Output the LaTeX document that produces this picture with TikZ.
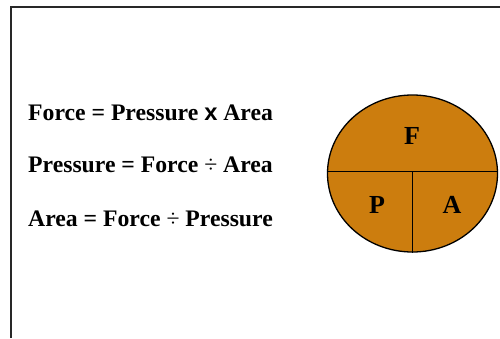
\documentclass[tikz,border=0pt]{standalone}
\usepackage{fontspec}
\setmainfont{Liberation Serif}
\newfontfamily\sansx{Liberation Sans}
\usetikzlibrary{shapes.geometric}
\definecolor{pieorange}{RGB}{204,125,14}
\definecolor{framegray}{RGB}{40,40,40}
\tikzset{
  eqtext/.style={anchor=base west, inner sep=0pt, font=\fontsize{23.7}{24}\selectfont\bfseries},
  pielabel/.style={inner sep=0pt, font=\fontsize{26}{26}\selectfont\bfseries},
}
\begin{document}
\begin{tikzpicture}[x=1pt, y=-1pt]
\useasboundingbox (0,0) rectangle (500,338);
\fill[white] (0,0) rectangle (500,338);
% frame
\draw[framegray, line width=2pt] (11,338) -- (11,7) -- (500,7);
% equations
\node[eqtext] (eqforce) at (28,120) {Force = Pressure {\sansx x} Area};
\node[eqtext] (eqpress) at (28,172) {Pressure = Force {\mdseries ÷} Area};
\node[eqtext] (eqarea) at (28,226) {Area = Force {\mdseries ÷} Pressure};
% triangle circle
\node[draw, line width=1.3pt, ellipse, fill=pieorange, minimum width=170pt, minimum height=157pt, inner sep=0pt] (fpa) at (412.5,173.5) {};
\draw[line width=1.3pt] ([yshift=2pt]fpa.west) -- ([yshift=2pt]fpa.east);
\draw[line width=1.3pt] ([yshift=2pt]fpa.center) -- (fpa.south);
\node[pielabel] (lblf) at (412,136) {F};
\node[pielabel] (lblp) at (377,205) {P};
\node[pielabel] (lbla) at (452,205) {A};
\end{tikzpicture}
\end{document}
